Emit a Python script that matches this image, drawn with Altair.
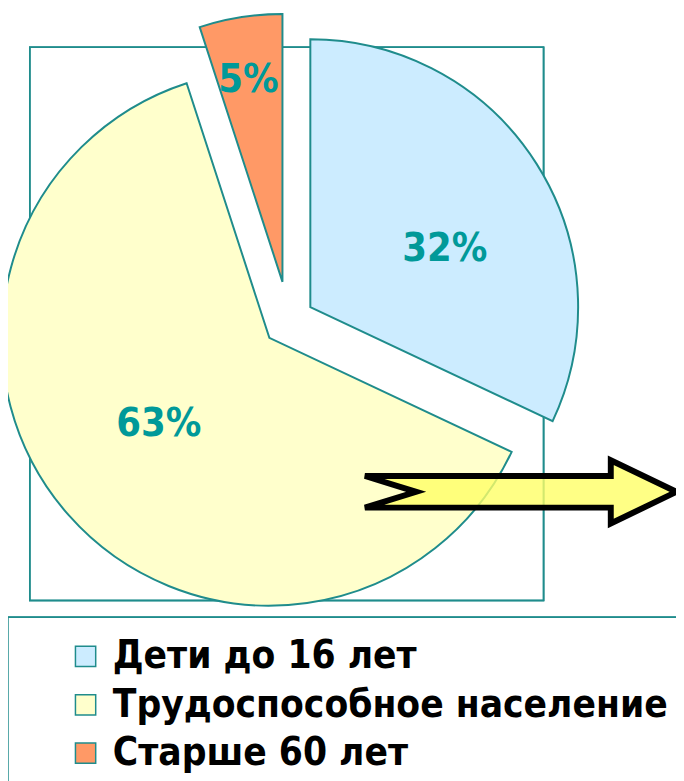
import altair as alt
import pandas as pd

categories = ["Дети до 16 лет", "Трудоспособное население", "Старше 60 лет"]
values = [32, 63, 5]
labels = ["32%", "63%", "5%"]
colors = ["#CCECFF", "#FFFFCC", "#FF9966"]

df = pd.DataFrame({"category": categories, "value": values, "label": labels,
                   "order": list(range(len(categories)))})

CX, CY = 284, 312      # pie centre (view px)
R = 271
TEAL = "#1F8C8C"
LABEL_TEAL = "#009999"
FONT_NARROW = "Liberation Sans Narrow, DejaVu Sans Condensed, Arial Narrow, sans-serif"

base = alt.Chart(df).transform_window(
    cum="sum(value)", sort=[alt.SortField("order")], frame=[None, 0]
).transform_joinaggregate(
    total="sum(value)"
).transform_calculate(
    start="(datum.cum - datum.value) / datum.total * 2 * PI",
    end="datum.cum / datum.total * 2 * PI",
).transform_calculate(
    mid="(datum.start + datum.end) / 2",
    d="datum.value < 10 ? 40 : 26",
    rl="datum.value < 10 ? 207 : datum.order == 0 ? 148 : 142",
    la="datum.order == 0 ? 0.16 : datum.order == 1 ? 0.06 : -0.01",
).transform_calculate(
    cx=f"{CX} + datum.d * sin(datum.mid)",
    cy=f"{CY} - datum.d * cos(datum.mid)",
).transform_calculate(
    lx="datum.cx + datum.rl * sin(datum.mid + datum.la)",
    ly="datum.cy - datum.rl * cos(datum.mid + datum.la)",
)

frame = alt.Chart(df).mark_rect(fill=None, stroke=TEAL, strokeWidth=1.5).encode(
    x=alt.value(22), x2=alt.value(542), y=alt.value(35), y2=alt.value(595)
)

arcs = base.mark_arc(outerRadius=R, stroke=TEAL, strokeWidth=2).encode(
    x=alt.X("cx:Q", scale=None),
    y=alt.Y("cy:Q", scale=None),
    theta=alt.Theta("start:Q", scale=None),
    theta2=alt.Theta2("end:Q"),
    color=alt.Color(
        "category:N",
        scale=alt.Scale(domain=categories, range=colors),
        legend=alt.Legend(
            title=None, orient="none", legendX=59, legendY=632,
            direction="vertical", symbolType="square", symbolSize=420,
            symbolStrokeColor=TEAL, symbolStrokeWidth=1.5,
            labelFont=FONT_NARROW, labelFontSize=39, labelFontWeight="bold",
            labelColor="black", labelOffset=8, rowPadding=9, padding=0,
            labelLimit=700,
        ),
    ),
)

texts = base.mark_text(font=FONT_NARROW, fontSize=40, fontWeight="bold",
                       color=LABEL_TEAL, align="center", baseline="middle").encode(
    x=alt.X("lx:Q", scale=None),
    y=alt.Y("ly:Q", scale=None),
    text="label:N",
)

arrow_path = ("M -0.98 -0.1 L 0.575 -0.1 L 0.575 -0.2 L 0.99 0 L 0.575 0.2 "
              "L 0.575 0.1 L -0.98 0.1 L -0.656 0 Z")
arrow = alt.Chart(pd.DataFrame({"a": [0]})).mark_point(
    shape=arrow_path, size=320 * 320, filled=True, fill="#FFFF66",
    fillOpacity=0.8, stroke="black", strokeWidth=6, opacity=1,
).encode(x=alt.value(518), y=alt.value(485))

legend_box = alt.Chart(df).mark_rect(fill="white", stroke=TEAL, strokeWidth=1.5).encode(
    x=alt.value(0), x2=alt.value(720), y=alt.value(612), y2=alt.value(820)
)

chart = alt.layer(frame, arcs, texts, arrow, legend_box).properties(
    width=676, height=773, padding=0,
    autosize=alt.AutoSizeParams(type="none"),
    background="white",
).configure_view(stroke=None)

chart.save("out.html", embed_options={"renderer": "svg", "actions": False})
